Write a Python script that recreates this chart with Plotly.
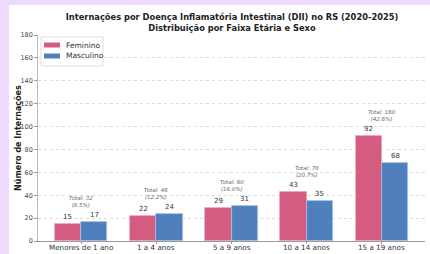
import plotly.graph_objects as go

categorias = ["Menores de 1 ano", "1 a 4 anos", "5 a 9 anos", "10 a 14 anos", "15 a 19 anos"]
feminino = [15, 22, 29, 43, 92]
masculino = [17, 24, 31, 35, 68]
y_ticks = [0, 20, 40, 60, 80, 100, 120, 140, 160, 180]
series_nomes = ["Feminino", "Masculino"]
cores = ["#d35c80", "#4f80bd"]

W, H = 430, 254
L, R, T, B = 38, 5, 35, 13
pw, ph = W - L - R, H - T - B

x = list(range(len(categorias)))
bw = 0.35
FONT = "DejaVu Sans"

fig = go.Figure()
fig.add_bar(x=[i - bw / 2 for i in x], y=feminino, width=bw, name=series_nomes[0],
            marker=dict(color=cores[0], line=dict(color="#e9a9bc", width=0.8)))
fig.add_bar(x=[i + bw / 2 for i in x], y=masculino, width=bw, name=series_nomes[1],
            marker=dict(color=cores[1], line=dict(color="#a9c0df", width=0.8)))

def px2x(p):
    return (p - L) / pw

def px2y(p):
    return (H - B - p) / ph

total_geral = sum(feminino) + sum(masculino)
ann = []
for i in x:
    ann.append(dict(x=i - bw / 2, y=feminino[i], text=str(feminino[i]), showarrow=False,
                    yanchor="bottom", yshift=1, font=dict(size=7, color="#333", family=FONT)))
    ann.append(dict(x=i + bw / 2, y=masculino[i], text=str(masculino[i]), showarrow=False,
                    yanchor="bottom", yshift=1, font=dict(size=7, color="#333", family=FONT)))
    tot = feminino[i] + masculino[i]
    pct = tot / total_geral * 100
    ann.append(dict(x=i, y=max(feminino[i], masculino[i]), text=f"<i>Total: {tot}<br>({pct:.1f}%)</i>",
                    showarrow=False, yanchor="bottom", yshift=12,
                    font=dict(size=5.5, color="#666", family=FONT)))
    # category label under axis
    ann.append(dict(x=i, y=0, text=categorias[i], showarrow=False, yanchor="top", yshift=-1,
                    borderpad=0, font=dict(size=7.2, color="#333", family=FONT)))

# y-axis title
ann.append(dict(xref="paper", yref="paper", x=px2x(18), y=0.5, text="<b>Número de Internações</b>",
                textangle=-90, showarrow=False, xanchor="center", yanchor="middle",
                font=dict(size=8, color="#222", family=FONT)))

# legend drawn manually (compact, matplotlib-like)
shapes = [dict(type="rect", xref="paper", yref="paper", x0=px2x(9), x1=px2x(432),
               y0=px2y(256), y1=px2y(5), fillcolor="white", line=dict(width=0), layer="below"),
          dict(type="rect", xref="paper", yref="paper", x0=px2x(41), x1=px2x(103),
               y0=px2y(66), y1=px2y(37), fillcolor="rgba(255,255,255,0.9)",
               line=dict(color="#d6d6d6", width=0.8), layer="above")]
for k, (nome, cor) in enumerate(zip(series_nomes, cores)):
    cy = 45 + k * 11
    shapes.append(dict(type="rect", xref="paper", yref="paper", x0=px2x(44), x1=px2x(60),
                       y0=px2y(cy + 2.5), y1=px2y(cy - 2.5), fillcolor=cor, line=dict(width=0),
                       layer="above"))
    ann.append(dict(xref="paper", yref="paper", x=px2x(64), y=px2y(cy), text=nome,
                    showarrow=False, xanchor="left", yanchor="middle",
                    font=dict(size=7.5, color="#333", family=FONT)))

fig.update_layout(
    width=W, height=H,
    margin=dict(l=L, r=R, t=T, b=B, pad=0),
    paper_bgcolor="#eedafa",
    plot_bgcolor="white",
    barmode="overlay",
    bargap=0,
    showlegend=False,
    title=dict(text="<b>Internações por Doença Inflamatória Intestinal (DII) no RS (2020-2025)<br>Distribuição por Faixa Etária e Sexo</b>",
               x=232 / W, xref="container", xanchor="center", y=1 - 20 / H, yanchor="middle",
               font=dict(size=8.3, color="#222", family=FONT)),
    font=dict(family=FONT, size=7, color="#444"),
    xaxis=dict(tickmode="array", tickvals=x, ticktext=categorias, range=[-0.573, 4.573],
               showticklabels=False,
               showgrid=False, showline=True, linecolor="#999", linewidth=0.8,
               ticks="outside", ticklen=2, tickcolor="#999",
               zeroline=False),
    yaxis=dict(range=[0, 180], tickvals=y_ticks, showgrid=True, gridcolor="#dcdcdc",
               griddash="dot", gridwidth=0.7, showline=True, linecolor="#bbb", linewidth=0.8,
               ticks="outside", ticklen=3, tickcolor="#999", tickfont=dict(size=6.5, color="#444"),
               zeroline=False),
    annotations=ann,
    shapes=shapes,
)

fig.write_html("out.html", config={"displayModeBar": False},
               post_script="document.body.style.margin='0px';document.body.style.overflow='hidden';")
